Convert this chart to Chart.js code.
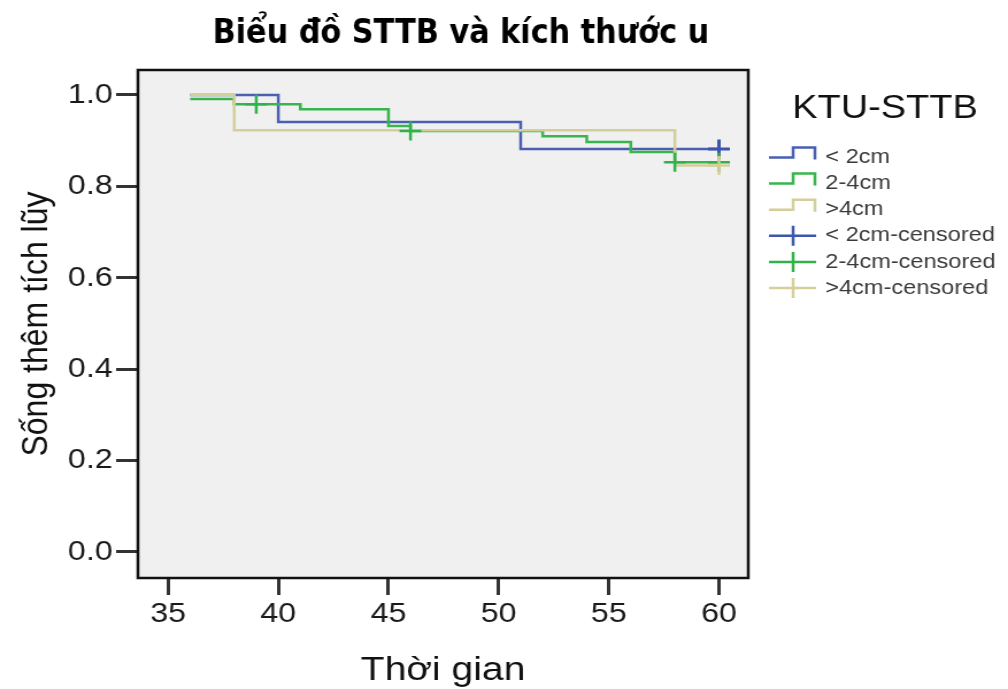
<!DOCTYPE html>
<html>
<head>
<meta charset="utf-8">
<title>Biểu đồ STTB và kích thước u</title>
<script src="https://cdn.jsdelivr.net/npm/chart.js@4.4.1/dist/chart.umd.min.js"></script>
<style>
  html, body { margin: 0; padding: 0; background: #fff; overflow: hidden; }
  /* the chart is drawn narrow and widened, like the exported SPSS figure */
  #wrap { width: 877px; height: 689px; transform: scaleX(1.1494); transform-origin: 0 0; }
</style>
</head>
<body>
<div id="wrap"><canvas id="kmChart" width="877" height="689"></canvas></div>
<script>
// Kaplan-Meier steps per tumour size group (time in months, cumulative survival)
const groups = ['< 2cm', '2-4cm', '>4cm'];

const timeSmall = [36, 40, 51, 60];
const survSmall = [1.0, 0.941, 0.882, 0.882];
const timeMid = [36, 38, 41, 45, 46, 52, 54, 56, 58, 60];
const survMid = [0.991, 0.980, 0.969, 0.932, 0.921, 0.910, 0.897, 0.875, 0.853, 0.853];
const timeLarge = [36, 38, 58, 60];
const survLarge = [1.0, 0.923, 0.846, 0.846];

// censored observations
const censTimeSmall = [60];
const censSurvSmall = [0.882];
const censTimeMid = [39, 46, 58, 60];
const censSurvMid = [0.980, 0.921, 0.853, 0.853];
const censTimeLarge = [60];
const censSurvLarge = [0.846];

const xTicks = [35, 40, 45, 50, 55, 60];
const yTicks = [0, 0.2, 0.4, 0.6, 0.8, 1.0];

const colors = ['#4a5fb1', '#38b54e', '#d4ce9b'];
const crossColors = ['#3d55ad', '#30b24a', '#d6cf98'];

const FONT = '"Liberation Sans", Arial, sans-serif';
Chart.defaults.font.family = FONT;

function pts(xs, ys) {
  return xs.map((x, i) => ({ x: x, y: ys[i] }));
}

function stepLine(i, xs, ys) {
  return {
    label: groups[i],
    data: pts(xs, ys),
    borderColor: colors[i],
    borderWidth: 2.5,
    stepped: true,
    fill: false,
    pointRadius: 0,
    order: 5 - i
  };
}

function censorMarks(i, xs, ys) {
  return {
    label: groups[i] + '-censored',
    data: pts(xs, ys),
    showLine: false,
    pointStyle: 'cross',
    pointRadius: 9.5,
    pointBorderWidth: i === 0 ? 3 : 2.5,
    pointBorderColor: crossColors[i],
    pointBackgroundColor: crossColors[i],
    order: 2 - i
  };
}

// grey plot panel, box frame, title and the legend on the right
const decor = {
  id: 'decor',
  beforeDraw(chart) {
    const { ctx, chartArea: a } = chart;
    ctx.save();
    ctx.fillStyle = '#f0f0f0';
    ctx.fillRect(a.left, a.top, a.right - a.left, a.bottom - a.top);
    ctx.restore();
  },
  afterDraw(chart) {
    const { ctx, chartArea: a } = chart;
    ctx.save();
    ctx.strokeStyle = '#111';
    ctx.lineWidth = 2.5;
    ctx.strokeRect(a.left, a.top, a.right - a.left, a.bottom - a.top);

    // chart title, tall bold glyphs squeezed to a narrow width
    const title = 'Biểu đồ STTB và kích thước u';
    ctx.font = 'bold 33px "Liberation Sans Narrow", "DejaVu Sans Condensed", "Liberation Sans", sans-serif';
    const w = ctx.measureText(title).width;
    const squeeze = Math.min(1, 432 / w);
    ctx.save();
    ctx.translate(401, 43);
    ctx.scale(squeeze, 1);
    ctx.fillStyle = '#000';
    ctx.textAlign = 'center';
    ctx.textBaseline = 'alphabetic';
    ctx.fillText(title, 0, 0);
    ctx.restore();

    // legend
    ctx.font = '33px ' + FONT;
    ctx.fillStyle = '#111';
    ctx.textAlign = 'center';
    ctx.textBaseline = 'alphabetic';
    ctx.fillText('KTU-STTB', 770, 118);

    const labels = groups.concat(groups.map(g => g + '-censored'));
    ctx.textAlign = 'left';
    ctx.textBaseline = 'middle';
    labels.forEach((lab, k) => {
      const cy = 157.5 + k * 26.1;
      const i = k % 3;
      ctx.lineWidth = 2.5;
      if (k < 3) {
        ctx.strokeStyle = colors[i];
        ctx.beginPath();
        ctx.moveTo(669, cy);
        ctx.lineTo(690, cy);
        ctx.lineTo(690, cy - 10);
        ctx.lineTo(709, cy - 10);
        ctx.lineTo(709, cy + 2);
        ctx.stroke();
      } else {
        ctx.strokeStyle = crossColors[i];
        ctx.beginPath();
        ctx.moveTo(669, cy);
        ctx.lineTo(710, cy);
        ctx.moveTo(690, cy - 10);
        ctx.lineTo(690, cy + 10);
        ctx.stroke();
      }
      ctx.font = '20.5px ' + FONT;
      ctx.fillStyle = '#3a3a3a';
      ctx.fillText(lab, 718, cy);
    });
    ctx.restore();
  }
};

new Chart(document.getElementById('kmChart'), {
  type: 'line',
  data: {
    datasets: [
      stepLine(0, timeSmall, survSmall),
      stepLine(1, timeMid, survMid),
      stepLine(2, timeLarge, survLarge),
      censorMarks(0, censTimeSmall, censSurvSmall),
      censorMarks(1, censTimeMid, censSurvMid),
      censorMarks(2, censTimeLarge, censSurvLarge)
    ]
  },
  options: {
    responsive: false,
    animation: false,
    events: [],
    layout: { padding: { left: 0, top: 70, right: 226, bottom: 0 } },
    plugins: {
      legend: { display: false },
      tooltip: { enabled: false }
    },
    scales: {
      x: {
        type: 'linear',
        min: 33.63,
        max: 61.33,
        afterBuildTicks: s => { s.ticks = xTicks.map(v => ({ value: v })); },
        afterFit: s => { s.height = 111; },
        border: { display: false },
        grid: { drawOnChartArea: false, drawTicks: true, tickLength: 17, tickColor: '#333', tickWidth: 3 },
        ticks: { font: { size: 28 }, color: '#1a1a1a', padding: 2, maxRotation: 0, autoSkip: false },
        title: {
          display: true,
          text: 'Thời gian',
          color: '#111',
          font: { size: 34, lineHeight: 1.1 },
          padding: { top: 0, bottom: 0 }
        }
      },
      y: {
        min: -0.0569,
        max: 1.0547,
        afterBuildTicks: s => { s.ticks = yTicks.map(v => ({ value: v })); },
        afterFit: s => { s.width = 120; },
        border: { display: false },
        grid: { drawOnChartArea: false, drawTicks: true, tickLength: 19, tickColor: '#333', tickWidth: 3 },
        ticks: {
          font: { size: 28 },
          color: '#1a1a1a',
          padding: 3,
          autoSkip: false,
          callback: v => v.toFixed(1)
        },
        title: {
          display: true,
          text: 'Sống thêm tích lũy',
          color: '#111',
          font: { size: 32, lineHeight: 1.2 },
          padding: { top: 13, bottom: 0 }
        }
      }
    }
  },
  plugins: [decor]
});
</script>
</body>
</html>
